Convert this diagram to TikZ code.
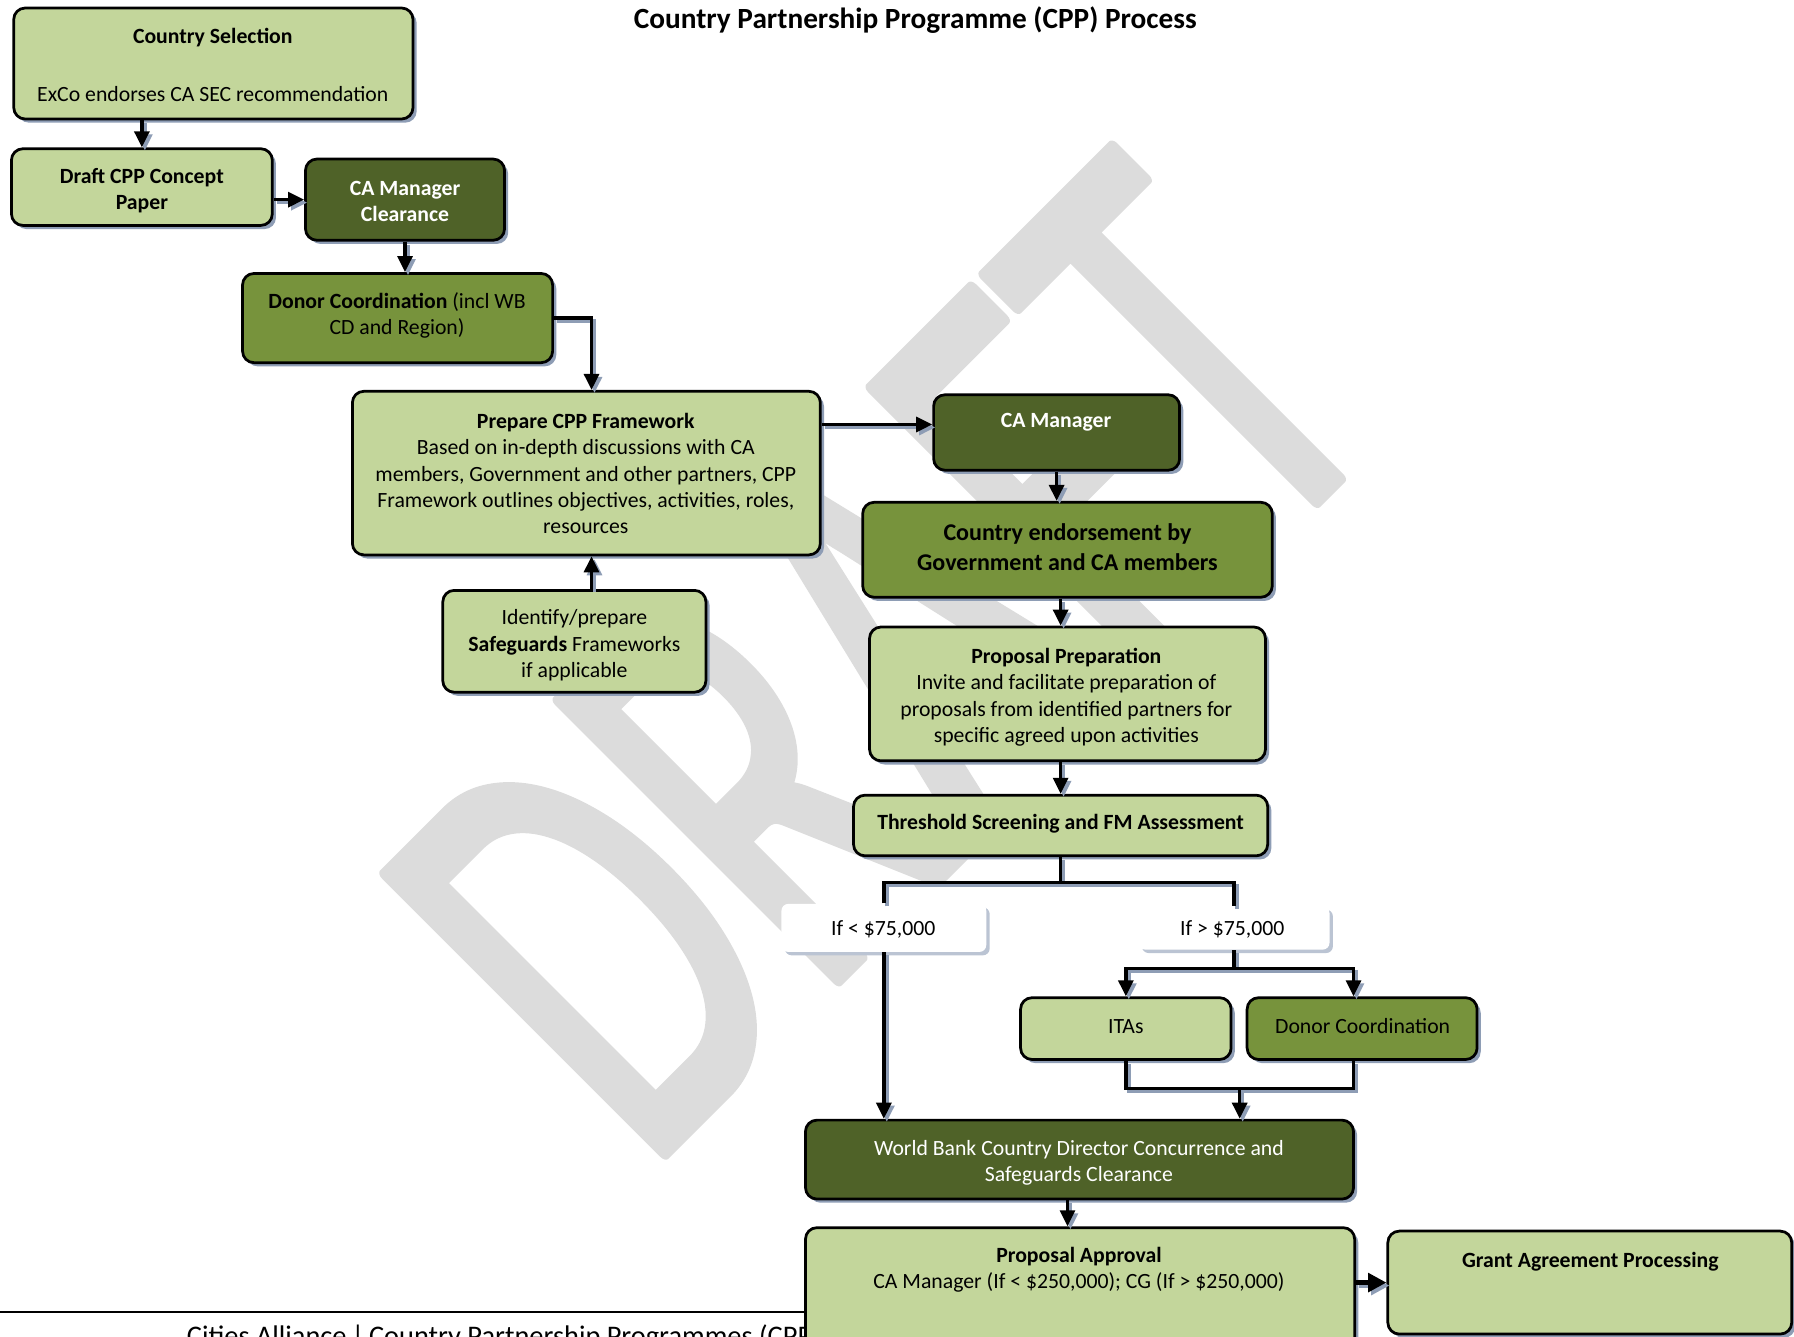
\documentclass[tikz,border=0pt]{standalone}
\usepackage{fontspec}
\setmainfont{Carlito}
\usepackage{graphicx}
\usetikzlibrary{shadows,fit,arrows.meta,calc}
\definecolor{lg}{HTML}{C3D69B}
\definecolor{mg}{HTML}{77933C}
\definecolor{dg}{HTML}{4F6228}
\definecolor{shc}{HTML}{8E9DB5}
\definecolor{wm}{HTML}{DCDCDC}
\newcommand\sconn[2][]{%
  \draw[conn,#1,draw=shc,transform canvas={shift={(1.3pt,-1.3pt)}}] #2;
  \draw[conn,#1] #2;}
\begin{document}
\begin{tikzpicture}[x=0.5pt,y=-0.5pt,
  box/.style={draw=black, line width=1.2pt, rounded corners=5pt, inner sep=0pt,
    drop shadow={shadow xshift=1.6pt, shadow yshift=-1.6pt, fill=shc, opacity=1}},
  lbox/.style={box, fill=lg},
  mbox/.style={box, fill=mg},
  dbox/.style={box, fill=dg},
  lab/.style={fill=white, rounded corners=3pt, inner sep=0pt,
    drop shadow={shadow xshift=1.5pt, shadow yshift=-1.5pt, fill=shc!60, opacity=1}},
  txt/.style={align=center, inner sep=0pt, font=\fontsize{9.5}{11.5}\selectfont},
  wtxt/.style={txt, text=white},
  conn/.style={line width=1.5pt},
  arr/.style={-{Triangle[length=7pt,width=6.5pt]}},
  arr2/.style={{Triangle[length=7pt,width=6.5pt]}-{Triangle[length=7pt,width=6.5pt]}},
  bigarr/.style={line width=2.4pt,-{Triangle[length=8pt,width=8pt]}}
]
\useasboundingbox (0,0) rectangle (1568,1168);
\clip (0,0) rectangle (1568,1168);

% watermark
\node[rotate=45, text=wm, inner sep=0pt] (wmark) at (770,575)
  {\resizebox{464pt}{172pt}{\special{pdf:code 2 Tr 1 j 0.22 w}DRAFT\special{pdf:code 0 Tr}}};

% title
\node[inner sep=0pt, font=\fontsize{12.8}{15}\selectfont\bfseries] (title) at (800,18)
  {Country Partnership Programme (CPP) Process};

% footer
\draw[line width=1pt] (0,1147) -- (704,1147);
\node[anchor=base west, inner sep=0pt, font=\fontsize{12.4}{14}\selectfont] (foot) at (163,1176)
  {Cities Alliance\,|\,Country Partnership Programmes (CPP)};

% boxes
\node[lbox, fit={(12,7)(361,104)}] (cs) {};
\node[lbox, fit={(10,130)(238,197)}] (draft) {};
\node[dbox, fit={(267,139)(441,210)}] (camc) {};
\node[mbox, fit={(212,239)(483,317)}] (donor1) {};
\node[lbox, fit={(308,342)(717,485)}] (prep) {};
\node[lbox, fit={(387,516)(617,605)}] (safe) {};
\node[dbox, fit={(816,345)(1031,411)}] (cam) {};
\node[mbox, fit={(754,439)(1112,522)}] (endorse) {};
\node[lbox, fit={(760,548)(1106,665)}] (pp) {};
\node[lbox, fit={(746,695)(1108,748)}] (thr) {};
\node[lab, fit={(683,790)(862,832)}] (lt) {};
\node[lab, fit={(995,792)(1162,830)}] (gt) {};
\node[lbox, fit={(892,872)(1076,926)}] (itas) {};
\node[mbox, fit={(1090,872)(1291,926)}] (donor2) {};
\node[dbox, fit={(704,979)(1183,1048)}] (wb) {};
\node[lbox, fit={(704,1073)(1184,1200)}] (pa) {};
\node[lbox, fit={(1213,1076)(1566,1166)}] (gap) {};

% texts
\node[txt] (t-cs1) at (186,33) {\textbf{Country Selection}};
\node[txt] (t-cs2) at (186,82) {ExCo endorses CA SEC recommendation};
\node[txt] (t-draft) at (124,166.5) {\textbf{Draft CPP Concept}\\\textbf{Paper}};
\node[wtxt] (t-camc) at (354,176) {\textbf{CA Manager}\\\textbf{Clearance}};
\node[txt] (t-donor1) at (347,275.5) {\textbf{Donor Coordination} (incl WB\\CD and Region)};
\node[txt] (t-prep) at (512,414) {\textbf{Prepare CPP Framework}\\Based on in-depth discussions with CA\\members, Government and other partners, CPP\\Framework outlines objectives, activities, roles,\\resources};
\node[txt] (t-safe) at (502,564) {Identify/prepare\\\textbf{Safeguards} Frameworks\\if applicable};
\node[wtxt] (t-cam) at (923,369) {\textbf{CA Manager}};
\node[txt, font=\fontsize{10.5}{13}\selectfont\bfseries] (t-endorse) at (933,478.5) {Country endorsement by\\Government and CA members};
\node[txt] (t-pp) at (932,609.5) {\textbf{Proposal Preparation}\\Invite and facilitate preparation of\\proposals from identified partners for\\specific agreed upon activities};
\node[txt] (t-thr) at (927,720) {\textbf{Threshold Screening and FM Assessment}};
\node[txt] (t-lt) at (772,812) {If < \$75,000};
\node[txt] (t-gt) at (1077,812) {If > \$75,000};
\node[txt] (t-itas) at (984,897) {ITAs};
\node[txt] (t-donor2) at (1191,897) {Donor Coordination};
\node[wtxt] (t-wb) at (943,1016.5) {World Bank Country Director Concurrence and\\Safeguards Clearance};
\node[txt] (t-pa) at (943,1110) {\textbf{Proposal Approval}\\CA Manager (If < \$250,000); CG (If > \$250,000)};
\node[txt] (t-gap) at (1390,1103) {\textbf{Grant Agreement Processing}};

% helper coordinates
\coordinate (pn) at ([xshift=2.25pt]prep.north);
\coordinate (ps) at ([xshift=2.25pt]prep.south);
\coordinate (cami) at ([yshift=3.5pt]cam.west);
\coordinate (endo) at ([xshift=-3pt]endorse.south);
\coordinate (d2n) at ([xshift=-3.75pt]donor2.north);
\coordinate (d2s) at ([xshift=-3.75pt]donor2.south);
\coordinate (wbo) at ([xshift=-5.25pt]wb.south);
\coordinate (j1) at ([yshift=-11pt]thr.south);
\coordinate (j2) at ([yshift=-8pt]gt.south);
\coordinate (j3) at ($(itas.south)!0.5!(d2s)+(0,24)$);

% connectors
\sconn[arr]{(cs.south -| draft.north) -- (draft.north)}
\sconn[arr]{(draft.east |- camc.west) -- (camc.west)}
\sconn[arr]{(camc.south) -- (camc.south |- donor1.north)}
\sconn[arr]{(donor1.east) -| (pn)}
\sconn[arr]{(ps |- safe.north) -- (ps)}
\sconn[arr]{(prep.east |- cami) -- (cami)}
\sconn[arr]{(cam.south) -- (cam.south |- endorse.north)}
\sconn[arr]{(endo) -- (endo |- pp.north)}
\sconn[arr]{(pp.south -| thr.north) -- (thr.north)}
\sconn{(thr.south) -- (j1)}
\sconn{(lt.north) |- (j1) -| (gt.north)}
\sconn[arr]{(lt.south) -- (lt.south |- wb.north)}
\sconn{(gt.south) -- (j2)}
\sconn[arr2]{(itas.north) |- (j2) -| (d2n)}
\sconn{(itas.south) |- (j3) -| (d2s)}
\sconn[arr]{(j3) -- (j3 |- wb.north)}
\sconn[arr]{(wbo) -- (wbo |- pa.north)}
\sconn[bigarr]{(pa.east |- gap.west) -- (gap.west)}
\end{tikzpicture}
\end{document}
